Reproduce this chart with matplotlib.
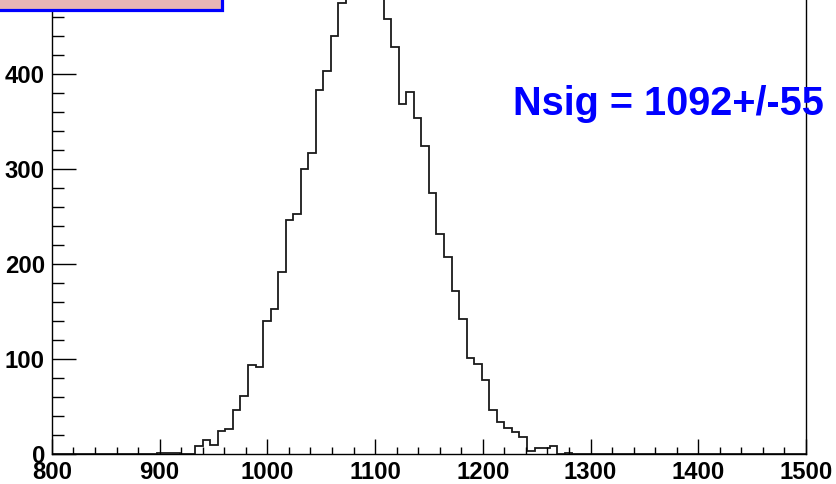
import numpy as np
import matplotlib
matplotlib.use("Agg")
import matplotlib.pyplot as plt
from matplotlib.patches import Rectangle
from matplotlib.ticker import MultipleLocator

# ---- data ----
x_min, x_max, n_bins = 800, 1500, 100
counts = [0] * 14 + [1, 1, 1, 0, 0,
          9, 15, 10, 25, 27, 47, 61, 94, 92, 140,
          153, 192, 246, 253, 300, 317, 383, 403, 440, 474,
          500, 520, 530, 515, 490, 457, 428, 368, 381, 353,
          324, 275, 232, 207, 172, 142, 101, 95, 78, 47,
          34, 28, 23, 18, 3, 7, 7, 9, 0, 1] + [0] * 31
x_ticks = [800, 900, 1000, 1100, 1200, 1300, 1400, 1500]
y_ticks = [0, 100, 200, 300, 400]
label_text = "Nsig = 1092+/-55"

W, H = 837, 484
fig = plt.figure(figsize=(W / 100, H / 100), dpi=100)

# axes geometry in pixels
ax_left, ax_right = 51.9, 806.0
ax_bottom_px = 454.3          # from top
px_per_unit = 0.9515
y_top = 560
ax_h_px = px_per_unit * y_top
ax = fig.add_axes([ax_left / W, (H - ax_bottom_px) / H,
                   (ax_right - ax_left) / W, ax_h_px / H])

edges = np.linspace(x_min, x_max, n_bins + 1)
ax.stairs(counts, edges, color="#1a1a1a", linewidth=1.3, baseline=None)

ax.set_xlim(x_min, x_max)
ax.set_ylim(0, y_top)
ax.set_xticks(x_ticks)
ax.set_yticks(y_ticks)
ax.xaxis.set_minor_locator(MultipleLocator(20))
ax.yaxis.set_minor_locator(MultipleLocator(20))

for s in ax.spines.values():
    s.set_linewidth(1.0)
    s.set_color("black")

ax.tick_params(axis="x", which="major", direction="in", length=10.8, width=1.0,
               pad=4.5, labelsize=17.2)
ax.tick_params(axis="x", which="minor", direction="in", length=5.2, width=1.0)
ax.tick_params(axis="y", which="major", direction="in", length=17, width=1.0,
               pad=5, labelsize=17.2)
ax.tick_params(axis="y", which="minor", direction="in", length=8.5, width=1.0)
for lab in ax.get_xticklabels() + ax.get_yticklabels():
    lab.set_fontfamily("Liberation Sans")
    lab.set_fontweight("bold")

# partially visible title box at top-left
fig.patches.append(Rectangle((-10 / W, (H - 9.5) / H), 232 / W, 30 / H,
                             transform=fig.transFigure, facecolor="#e8b6b6",
                             edgecolor="#0000ff", linewidth=2.3, zorder=5))

fig.text(513 / W, (H - 115) / H, label_text, color="#0000ff",
         fontfamily="Liberation Sans", fontweight="bold", fontsize=28.5,
         va="baseline", ha="left")

fig.savefig("out.png", dpi=100)
